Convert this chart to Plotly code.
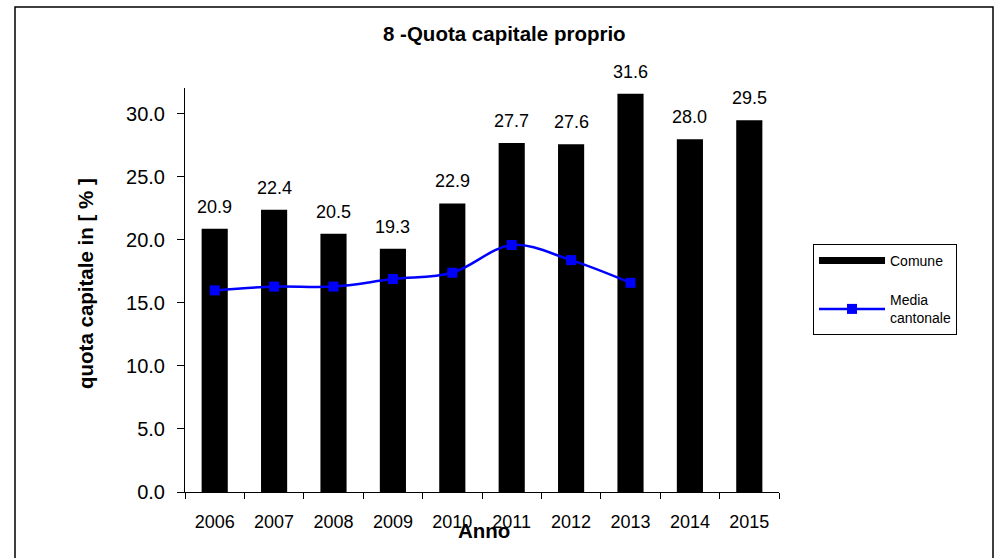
import plotly.graph_objects as go

years = ["2006", "2007", "2008", "2009", "2010", "2011", "2012", "2013", "2014", "2015"]
comune = [20.9, 22.4, 20.5, 19.3, 22.9, 27.7, 27.6, 31.6, 28.0, 29.5]
media_years = ["2006", "2007", "2008", "2009", "2010", "2011", "2012", "2013"]
media = [16.0, 16.3, 16.3, 16.9, 17.4, 19.6, 18.4, 16.6]
y_ticks = [0, 5, 10, 15, 20, 25, 30]

FONT = "Liberation Sans, Arial, sans-serif"
W, H = 999, 558

# plot area in page pixels
PX0, PX1, PY0, PY1 = 185, 779, 88, 492
def px(x):
    return (x - PX0) / (PX1 - PX0)
def py(y):
    return (PY1 - y) / (PY1 - PY0)

fig = go.Figure()
fig.add_trace(go.Bar(
    x=years, y=comune, name="Comune", width=0.44,
    marker=dict(color="black", line=dict(width=0)),
    showlegend=False,
))
# legend entry for Comune drawn as a thick black bar (no data)
fig.add_trace(go.Scatter(
    x=[None], y=[None], name="Comune", mode="lines",
    line=dict(color="black", width=7), legendgroup="a",
))
fig.add_trace(go.Scatter(
    x=media_years, y=media, name="Media<br>cantonale", mode="lines+markers",
    line=dict(color="#0000FF", width=2.5, shape="spline", smoothing=1.0),
    marker=dict(symbol="square", size=10, color="#0000FF"),
    legendgroup="b",
))

for i, v in enumerate(comune):
    fig.add_annotation(x=i, y=v, xref="x", yref="y", text=f"{v:.1f}", showarrow=False,
                       yshift=22, font=dict(size=18, color="black", family=FONT))

fig.add_annotation(text="<b>8 -Quota capitale proprio</b>", xref="paper", yref="paper",
                   x=px(504), y=py(33), xanchor="center", yanchor="middle", showarrow=False,
                   font=dict(size=20.5, color="black", family=FONT))
fig.add_annotation(text="<b>quota capitale in [ % ]</b>", xref="paper", yref="paper",
                   x=px(85), y=py(284), xanchor="center", yanchor="middle",
                   showarrow=False, textangle=-90,
                   font=dict(size=20.5, color="black", family=FONT))
fig.add_annotation(text="<b>Anno</b>", xref="paper", yref="paper",
                   x=px(484), y=py(530), xanchor="center", yanchor="middle", showarrow=False,
                   font=dict(size=20.5, color="black", family=FONT))

fig.add_shape(type="rect", xref="paper", yref="paper",
              x0=px(15), x1=px(993), y0=py(600), y1=py(7),
              line=dict(color="black", width=1.5), layer="below")

fig.update_layout(
    width=W, height=H,
    margin=dict(l=PX0, r=W - PX1, t=PY0, b=H - PY1),
    paper_bgcolor="white", plot_bgcolor="white",
    font=dict(family=FONT, size=18, color="black"),
    showlegend=True,
    legend=dict(
        xref="container", yref="container",
        x=813 / W, y=1 - 244 / H, xanchor="left", yanchor="top",
        bordercolor="black", borderwidth=1, bgcolor="white",
        font=dict(size=14, family=FONT), tracegroupgap=18,
        itemwidth=66,
    ),
    xaxis=dict(
        type="category", showline=True, linecolor="black", linewidth=1,
        ticks="outside", ticklen=6, tickcolor="black", tickson="boundaries",
        showgrid=False, zeroline=False, ticklabelstandoff=13,
        range=[-0.5, 9.5], tickfont=dict(size=18),
    ),
    yaxis=dict(
        range=[0, 32.06], tickvals=y_ticks, tickformat=".1f",
        showline=True, linecolor="black", linewidth=1,
        ticks="outside", ticklen=7, tickcolor="black",
        showgrid=False, zeroline=False, ticklabelstandoff=8,
        tickfont=dict(size=20),
    ),
)

fig.write_html("out.html", config={"displayModeBar": False},
               post_script="document.body.style.margin='0px';document.body.style.overflow='hidden';")
